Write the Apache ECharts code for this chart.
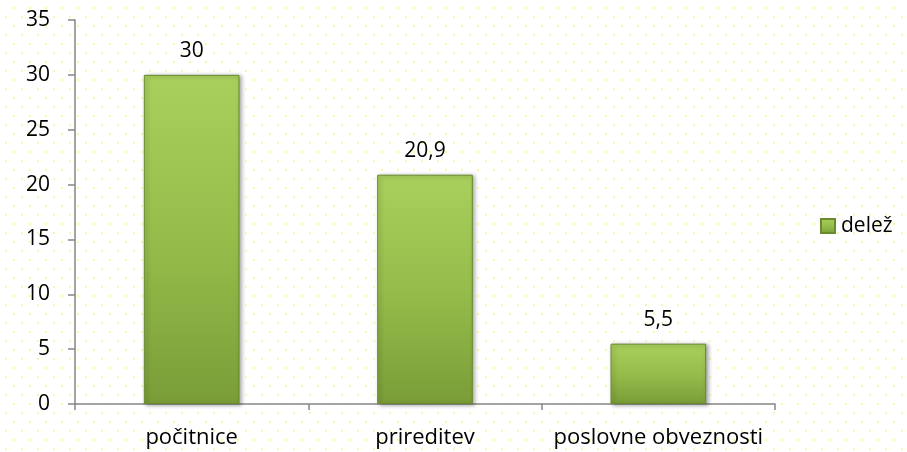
<!DOCTYPE html>
<html><head><meta charset="utf-8">
<script src="https://cdn.jsdelivr.net/npm/echarts@6/dist/echarts.min.js"></script>
<style>html,body{margin:0;padding:0;background:#fff}#c{width:907px;height:452px}</style>
</head><body><div id="c"></div>
<script>
const categories = ['počitnice', 'prireditev', 'poslovne obveznosti'];
const values = [30, 20.9, 5.5];
const seriesName = 'delež';
const yTicks = { min: 0, max: 35, interval: 5 };

// dotted background pattern
const pc = document.createElement('canvas');
pc.width = 16; pc.height = 18;
const pctx = pc.getContext('2d');
pctx.fillStyle = '#ffffff'; pctx.fillRect(0, 0, 16, 18);
pctx.fillStyle = '#f8f8a8';
pctx.fillRect(13, 7, 2, 2);
pctx.fillRect(5, 16, 2, 2);

const font = '"Open Sans", sans-serif';
const chart = echarts.init(document.getElementById('c'), null, { renderer: 'canvas' });
chart.setOption({
  backgroundColor: { image: pc, repeat: 'repeat' },
  animation: false,
  grid: { left: 75, right: 132, top: 20, bottom: 48, containLabel: false },
  legend: {
    left: 815, top: 'middle', orient: 'vertical',
    icon: 'rect', itemWidth: 14, itemHeight: 14, itemGap: 5,
    textStyle: { fontFamily: font, fontSize: 21, color: '#000', padding: [0, 0, 0, 1] },
    data: [seriesName]
  },
  xAxis: {
    type: 'category', data: categories,
    axisLine: { lineStyle: { color: '#868686', width: 1.5 } },
    axisTick: { show: true, length: 6, alignWithLabel: false, lineStyle: { color: '#868686', width: 1.5 } },
    axisLabel: { interval: 0, fontFamily: font, fontSize: 22, color: '#000', margin: 23 }
  },
  yAxis: {
    type: 'value', min: yTicks.min, max: yTicks.max, interval: yTicks.interval,
    axisLine: { show: true, lineStyle: { color: '#868686', width: 1.5 } },
    axisTick: { show: true, length: 7, lineStyle: { color: '#868686', width: 1.5 } },
    splitLine: { show: false },
    axisLabel: { fontFamily: font, fontSize: 21, color: '#000', margin: 25 }
  },
  series: [{
    name: seriesName, type: 'bar', data: values, barWidth: '41%',
    itemStyle: {
      color: new echarts.graphic.LinearGradient(0, 0, 0, 1, [
        { offset: 0, color: '#a9d05c' },
        { offset: 0.5, color: '#96bd4b' },
        { offset: 1, color: '#7a9d38' }
      ]),
      borderColor: '#6a8a2e', borderWidth: 1,
      shadowColor: 'rgba(0,0,0,0.35)', shadowBlur: 4, shadowOffsetX: 2, shadowOffsetY: 1
    },
    label: {
      show: true, position: 'top', distance: 13,
      fontFamily: font, fontSize: 21, color: '#000',
      formatter: p => String(p.value).replace('.', ',')
    }
  }]
});
</script></body></html>
